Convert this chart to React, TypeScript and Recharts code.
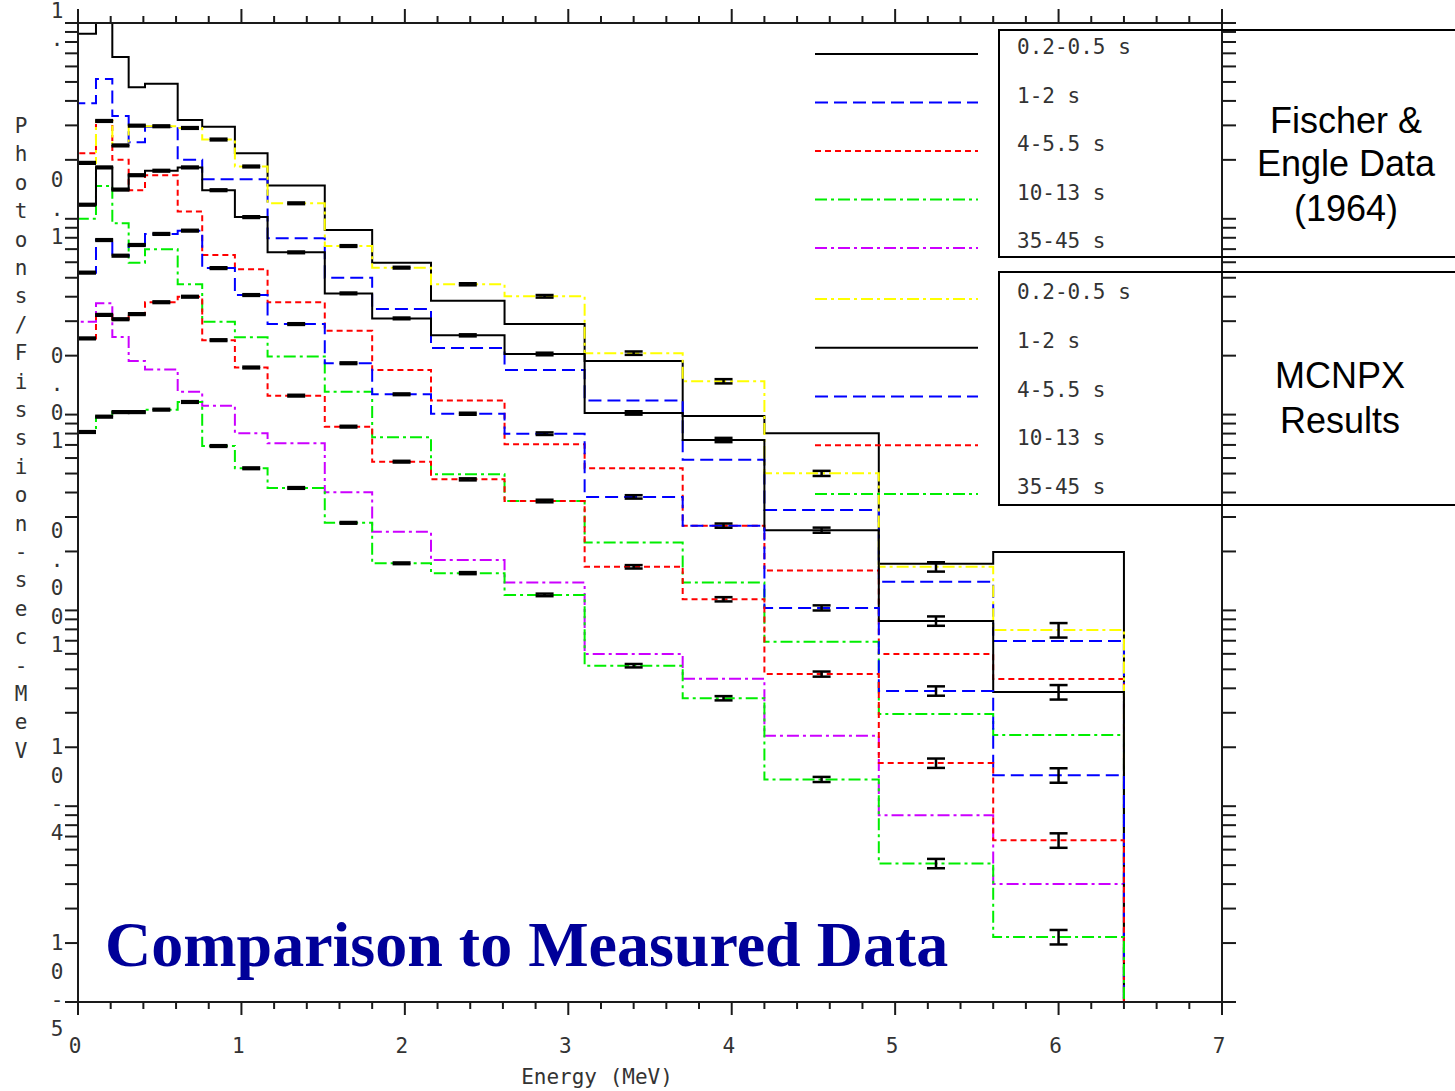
import React from 'react';
import { ComposedChart, Line, Scatter, ErrorBar, XAxis, YAxis } from 'recharts';

const W = 1455;
const H = 1091;
const MONO = '"DejaVu Sans Mono", "Liberation Mono", monospace';
const INK = '#1a1a1a';
const FLOOR = 1e-5;

// energy bin edges (MeV)
const edges = [0, 0.11, 0.21, 0.31, 0.41, 0.61, 0.76, 0.96, 1.16, 1.51, 1.8, 2.16, 2.61, 3.1, 3.7, 4.2, 4.9, 5.6, 6.4];

// Fischer & Engle (1964) measured spectra, photons/fission-sec-MeV
const feT02 = [0.88, 1.3, 0.67, 0.47, 0.49, 0.32, 0.295, 0.216, 0.148, 0.0877, 0.0597, 0.0382, 0.029, 0.0188, 0.00984, 0.00802, 0.00173, 0.00199];
const feT1 = [0.389, 0.518, 0.335, 0.246, 0.295, 0.2, 0.159, 0.159, 0.0795, 0.05, 0.0346, 0.0219, 0.0169, 0.0118, 0.00588, 0.00326, 0.0014, 0.000698];
const feT4 = [0.216, 0.317, 0.2, 0.14, 0.167, 0.109, 0.0653, 0.0552, 0.0375, 0.0268, 0.0169, 0.0118, 0.00705, 0.00532, 0.00271, 0.0016, 0.000599, 0.000446];
const feT10 = [0.1, 0.147, 0.0948, 0.0597, 0.0699, 0.0463, 0.0298, 0.0248, 0.0198, 0.0131, 0.00766, 0.00496, 0.00362, 0.00222, 0.00139, 0.000692, 0.000296, 0.000231];
const feT35 = [0.0298, 0.037, 0.0249, 0.0188, 0.017, 0.0131, 0.0111, 0.00802, 0.00714, 0.00401, 0.00252, 0.00181, 0.00139, 0.000599, 0.000448, 0.000229, 0.00009, 0.00004];

// MCNPX results
const mcT02 = [0.193, 0.316, 0.237, 0.299, 0.297, 0.291, 0.254, 0.185, 0.12, 0.0726, 0.0563, 0.0463, 0.0402, 0.0206, 0.0148, 0.00501, 0.00167, 0.000794];
const mcT1 = [0.118, 0.183, 0.141, 0.167, 0.176, 0.183, 0.14, 0.102, 0.0674, 0.0416, 0.031, 0.0254, 0.0204, 0.0102, 0.00742, 0.00257, 0.000883, 0.000383];
const mcT4 = [0.0531, 0.0779, 0.0648, 0.0735, 0.0837, 0.087, 0.056, 0.0408, 0.029, 0.0183, 0.0127, 0.0101, 0.00799, 0.0038, 0.00271, 0.00103, 0.000388, 0.000144];
const mcT10 = [0.0245, 0.0323, 0.0307, 0.0326, 0.0375, 0.04, 0.024, 0.0174, 0.0125, 0.00868, 0.00575, 0.00467, 0.00362, 0.00167, 0.00114, 0.000473, 0.000166, 0.000067];
const mcT35 = [0.00815, 0.00976, 0.0103, 0.0103, 0.0106, 0.0116, 0.00691, 0.00532, 0.00422, 0.0028, 0.00174, 0.00155, 0.0012, 0.000522, 0.000356, 0.000137, 0.000051, 0.0000215];

// relative statistical error of the MCNPX tallies per bin
const mcRelErr = [0.01, 0.01, 0.01, 0.01, 0.01, 0.01, 0.01, 0.01, 0.01, 0.01, 0.01, 0.012, 0.015, 0.02, 0.025, 0.03, 0.055, 0.085];

const periods = ['0.2-0.5 s', '1-2 s', '4-5.5 s', '10-13 s', '35-45 s'];

const xMajor = [0, 1, 2, 3, 4, 5, 6, 7];
const xTicks = xMajor.flatMap((v) => (v < 7 ? [v, v + 0.2, v + 0.4, v + 0.6, v + 0.8] : [v]));

const yDecades = [1e-5, 1e-4, 1e-3, 1e-2, 1e-1, 1];
const yLabels = ['10-5', '10-4', '0.001', '0.01', '0.1', '1.'];
const yTicks = yDecades.flatMap((d, i) => (i < yDecades.length - 1 ? [1, 2, 3, 4, 5, 6, 7, 8, 9].map((k) => d * k) : [d]));

const DASHED = '13 6';
const SHORT = '6 4';
const DASHDOT = '12 4 3 4';

const feSeries = [
  { key: 'fe02', values: feT02, color: '#000000', dash: undefined },
  { key: 'fe1', values: feT1, color: '#0000ff', dash: DASHED },
  { key: 'fe4', values: feT4, color: '#ff0000', dash: SHORT },
  { key: 'fe10', values: feT10, color: '#00ee00', dash: DASHDOT },
  { key: 'fe35', values: feT35, color: '#cc00ff', dash: DASHDOT },
];

const mcSeries = [
  { key: 'mc02', values: mcT02, color: '#ffff00', dash: DASHDOT },
  { key: 'mc1', values: mcT1, color: '#000000', dash: undefined },
  { key: 'mc4', values: mcT4, color: '#0000ff', dash: DASHED },
  { key: 'mc10', values: mcT10, color: '#ff0000', dash: SHORT },
  { key: 'mc35', values: mcT35, color: '#00ee00', dash: DASHDOT },
];

// histogram outline: rises from the floor at 0, steps through each bin, drops at the last edge
function steps(values: number[]) {
  const last = edges[edges.length - 1];
  const pts = [{ x: edges[0], y: FLOOR }];
  values.forEach((v, i) => pts.push({ x: edges[i], y: v }));
  pts.push({ x: last, y: values[values.length - 1] });
  pts.push({ x: last, y: FLOOR });
  return pts;
}

function centers(values: number[]) {
  return values.map((v, i) => ({
    x: (edges[i] + edges[i + 1]) / 2,
    y: v,
    err: v * mcRelErr[i],
  }));
}

const isMajor = (v: number) => Math.abs(v - Math.round(v)) < 1e-6;

function BottomTick({ x, y, payload }: any) {
  const major = isMajor(payload.value);
  return (
    <g>
      <line x1={x} x2={x} y1={y} y2={y + (major ? 13 : 7)} stroke={INK} strokeWidth={2} />
      {major && (
        <text x={x - 3} y={y + 51} textAnchor="middle" fontFamily={MONO} fontSize={21} fill="#333">
          {Math.round(payload.value)}
        </text>
      )}
    </g>
  );
}

function TopTick({ x, y, payload }: any) {
  const major = isMajor(payload.value);
  return <line x1={x} x2={x} y1={y} y2={y - (major ? 14 : 7)} stroke={INK} strokeWidth={2} />;
}

// decade labels are printed as a vertical stack of characters
function LeftTick({ x, y, payload }: any) {
  const idx = yDecades.findIndex((d) => Math.abs(d - payload.value) < d * 1e-6);
  const chars = idx >= 0 ? yLabels[idx].split('') : [];
  const n = chars.length;
  const first = Math.max(y - 16.5 - (n - 4) * 6 - ((n - 1) / 2) * 28.5, 10);
  return (
    <g>
      <line x1={x - 13} x2={x} y1={y} y2={y} stroke={INK} strokeWidth={2} />
      {chars.map((c, i) => (
        <text
          key={i}
          x={x - 21}
          y={first + i * 28.5 + 7.5}
          textAnchor="middle"
          fontFamily={MONO}
          fontSize={21}
          fill="#333"
        >
          {c}
        </text>
      ))}
    </g>
  );
}

function RightTick({ x, y }: any) {
  return <line x1={x} x2={x + 14} y1={y} y2={y} stroke={INK} strokeWidth={2} />;
}

const yTitle = 'Photons/Fission-sec-MeV';

function Overlay() {
  return (
    <svg width={W} height={H} style={{ position: 'absolute', left: 0, top: 0, pointerEvents: 'none' }}>
      {yTitle.split('').map((c, i) => (
        <text key={i} x={21} y={133 + i * 28.4} textAnchor="middle" fontFamily={MONO} fontSize={21} fill="#333">
          {c}
        </text>
      ))}
      <text x={597} y={1084} textAnchor="middle" fontFamily={MONO} fontSize={21} fill="#333">
        Energy (MeV)
      </text>

      <text x={105} y={966} fontFamily='"Liberation Serif", "Times New Roman", serif' fontWeight="bold" fontSize={64} fill="#000099">
        Comparison to Measured Data
      </text>

      {/* legend: measured */}
      <rect x={999} y={30} width={470} height={227} fill="none" stroke="#000" strokeWidth={2} />
      {feSeries.map((s, i) => (
        <g key={s.key}>
          <line x1={815} x2={978} y1={54 + i * 48.5} y2={54 + i * 48.5} stroke={s.color} strokeWidth={2} strokeDasharray={s.dash} />
          <text x={1017} y={54 + i * 48.5} fontFamily={MONO} fontSize={21} fill="#333">
            {periods[i]}
          </text>
        </g>
      ))}
      <g fontFamily='"Liberation Sans", Arial, sans-serif' fontSize={36} fill="#000" textAnchor="middle">
        <text x={1346} y={133}>Fischer &amp;</text>
        <text x={1346} y={176}>Engle Data</text>
        <text x={1346} y={221}>(1964)</text>
      </g>

      {/* legend: MCNPX */}
      <rect x={999} y={272} width={470} height={233} fill="none" stroke="#000" strokeWidth={2} />
      {mcSeries.map((s, i) => (
        <g key={s.key}>
          <line x1={815} x2={978} y1={299 + i * 48.75} y2={299 + i * 48.75} stroke={s.color} strokeWidth={2} strokeDasharray={s.dash} />
          <text x={1017} y={299 + i * 48.75} fontFamily={MONO} fontSize={21} fill="#333">
            {periods[i]}
          </text>
        </g>
      ))}
      <g fontFamily='"Liberation Sans", Arial, sans-serif' fontSize={36} fill="#000" textAnchor="middle">
        <text x={1340} y={388}>MCNPX</text>
        <text x={1340} y={433}>Results</text>
      </g>
    </svg>
  );
}

export default function App() {
  return (
    <div style={{ position: 'absolute', left: 0, top: 0, width: W, height: H, overflow: 'hidden', background: '#fff' }}>
      <ComposedChart width={W} height={H} margin={{ top: 0, right: 0, bottom: 0, left: 0 }}>
        <XAxis
          xAxisId="bottom"
          dataKey="x"
          type="number"
          domain={[0, 7]}
          ticks={xTicks}
          interval={0}
          height={89}
          tickSize={0}
          tickMargin={0}
          tickLine={false}
          axisLine={{ stroke: INK, strokeWidth: 2 }}
          tick={(p: any) => <BottomTick {...p} />}
          allowDataOverflow
        />
        <XAxis
          xAxisId="top"
          orientation="top"
          dataKey="x"
          type="number"
          domain={[0, 7]}
          ticks={xTicks}
          interval={0}
          height={23}
          tickSize={0}
          tickMargin={0}
          tickLine={false}
          axisLine={{ stroke: INK, strokeWidth: 2 }}
          tick={(p: any) => <TopTick {...p} />}
          allowDataOverflow
        />
        <YAxis
          yAxisId="left"
          dataKey="y"
          type="number"
          scale="log"
          domain={[FLOOR, 1]}
          ticks={yTicks}
          interval={0}
          width={78}
          tickSize={0}
          tickMargin={0}
          tickLine={false}
          axisLine={{ stroke: INK, strokeWidth: 2 }}
          tick={(p: any) => <LeftTick {...p} />}
          allowDataOverflow
        />
        <YAxis
          yAxisId="right"
          orientation="right"
          dataKey="y"
          type="number"
          scale="log"
          domain={[FLOOR, 1]}
          ticks={yTicks}
          interval={0}
          width={233}
          tickSize={0}
          tickMargin={0}
          tickLine={false}
          axisLine={{ stroke: INK, strokeWidth: 2 }}
          tick={(p: any) => <RightTick {...p} />}
          allowDataOverflow
        />

        {[...feSeries, ...mcSeries].map((s) => (
          <Line
            key={s.key}
            xAxisId="bottom"
            yAxisId="left"
            data={steps(s.values)}
            dataKey="y"
            type="stepAfter"
            stroke={s.color}
            strokeWidth={2}
            strokeDasharray={s.dash}
            dot={false}
            activeDot={false}
            isAnimationActive={false}
          />
        ))}

        {mcSeries.map((s) => (
          <Scatter
            key={s.key + '-err'}
            xAxisId="bottom"
            yAxisId="left"
            data={centers(s.values)}
            dataKey="y"
            shape={() => <g />}
            isAnimationActive={false}
          >
            <ErrorBar dataKey="err" direction="y" width={9} stroke="#000" strokeWidth={2.5} isAnimationActive={false} />
          </Scatter>
        ))}
      </ComposedChart>
      <Overlay />
    </div>
  );
}
